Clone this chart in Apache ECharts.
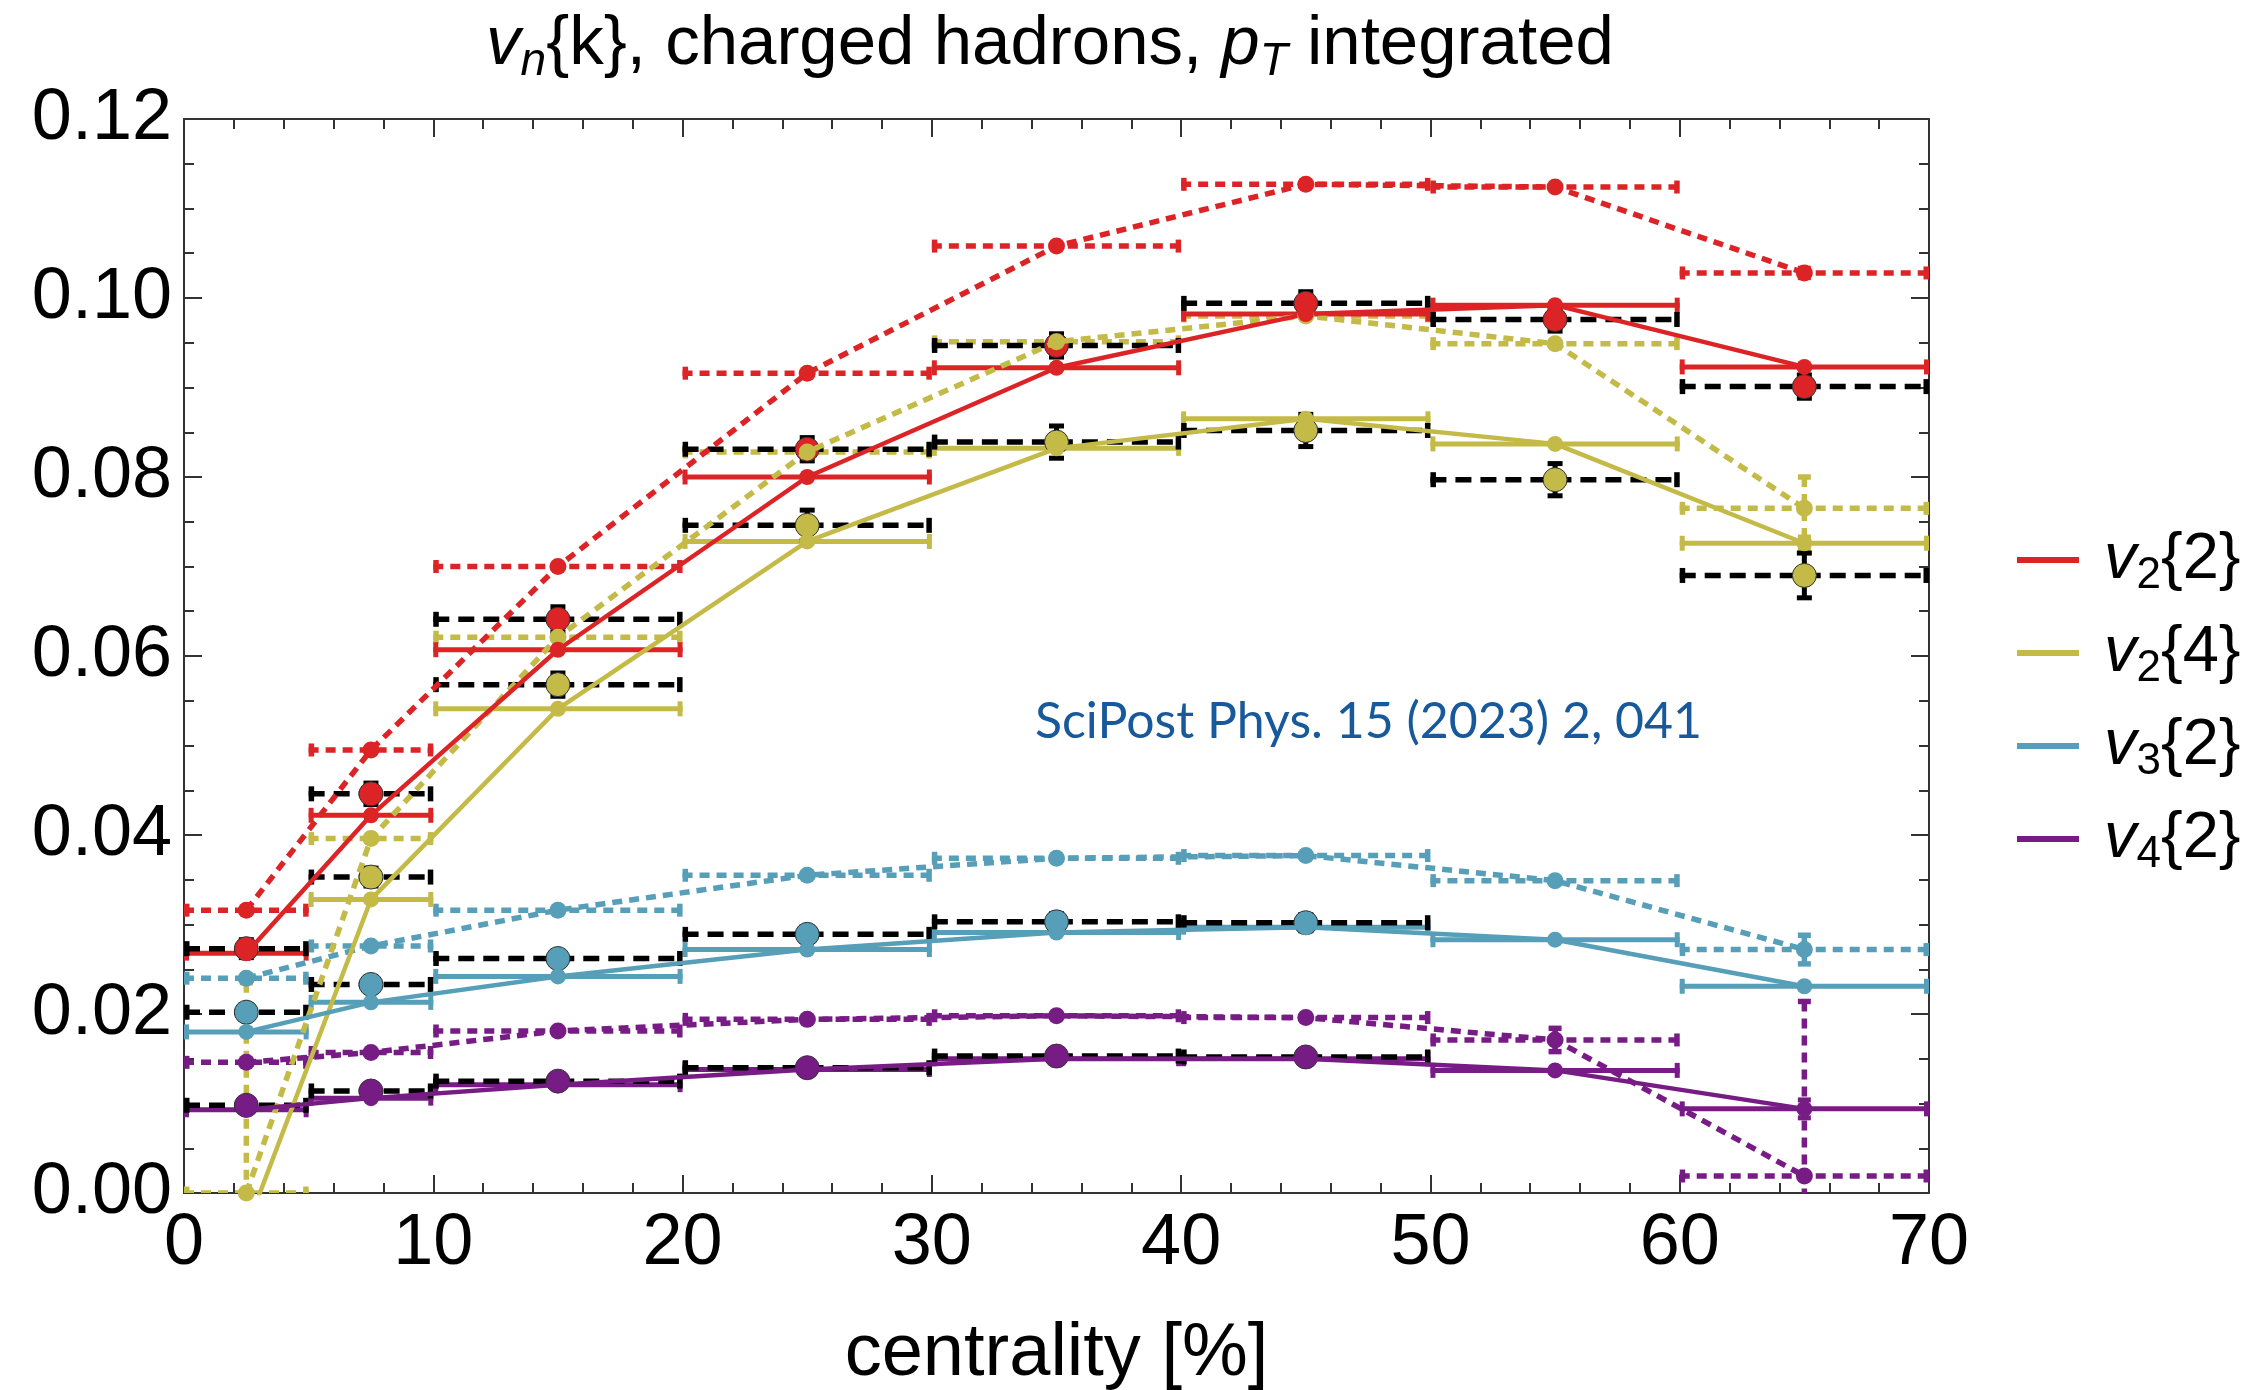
<!DOCTYPE html>
<html><head><meta charset="utf-8">
<script src="https://cdn.jsdelivr.net/npm/echarts@6/dist/echarts.min.js"></script>
<style>html,body{margin:0;padding:0;background:#fff}#c{width:2260px;height:1390px}</style>
</head><body><div id="c"></div>
<script>
// ---------------- data ----------------
const binLo     = [0, 5, 10, 20, 30, 40, 50, 60];
const binHi     = [5, 10, 20, 30, 40, 50, 60, 70];
const binCenter = [2.5, 7.5, 15, 25, 35, 45, 55, 65];
const seriesNames = ['v2{2}', 'v2{4}', 'v3{2}', 'v4{2}'];

// model 1 (solid lines)
const v22Solid = [0.0268, 0.0422, 0.0607, 0.0800, 0.0922, 0.0982, 0.0992, 0.0923];
const v24Solid = [-0.0040, 0.0328, 0.0541, 0.0728, 0.0832, 0.0865, 0.0837, 0.0726];
const v32Solid = [0.0180, 0.0213, 0.0242, 0.0272, 0.0291, 0.0297, 0.0283, 0.0231];
const v42Solid = [0.0093, 0.0106, 0.0121, 0.0138, 0.0150, 0.0150, 0.0137, 0.0094];
const v22SolidErr = [0, 0, 0, 0, 0, 0, 0, 0];
const v24SolidErr = [0, 0, 0, 0, 0, 0, 0, 0.0007];
const v32SolidErr = [0, 0, 0, 0, 0, 0, 0, 0];
const v42SolidErr = [0, 0, 0, 0, 0, 0, 0, 0.0010];

// model 2 (dotted lines)
const v22Dotted = [0.0316, 0.0495, 0.0700, 0.0916, 0.1058, 0.1127, 0.1124, 0.1028];
const v24Dotted = [0.0000, 0.0396, 0.0621, 0.0828, 0.0951, 0.0980, 0.0949, 0.0765];
const v32Dotted = [0.0240, 0.0276, 0.0316, 0.0355, 0.0374, 0.0377, 0.0349, 0.0272];
const v42Dotted = [0.0146, 0.0157, 0.0181, 0.0194, 0.0198, 0.0196, 0.0171, 0.0019];
const v22DottedErr = [0, 0, 0, 0, 0, 0, 0, 0.0005];
const v24DottedErr = [0.0235, 0, 0, 0, 0, 0, 0, 0.0035];
const v32DottedErr = [0, 0, 0, 0, 0, 0, 0, 0.0016];
const v42DottedErr = [0, 0, 0, 0, 0, 0, 0.0013, 0.0195];

// measurements (dashed black bins, big dots)
const v22Data = [0.0273, 0.0446, 0.0641, 0.0831, 0.0947, 0.0994, 0.0976, 0.0901];
const v24Data = [null, 0.0353, 0.0568, 0.0746, 0.0839, 0.0852, 0.0797, 0.0690];
const v32Data = [0.0202, 0.0233, 0.0262, 0.0289, 0.0303, 0.0302, null, null];
const v42Data = [0.0098, 0.0114, 0.0125, 0.0140, 0.0153, 0.0152, null, null];
const v22DataErr = [0.0010, 0.0012, 0.0014, 0.0013, 0.0013, 0.0013, 0.0013, 0.0013];
const v24DataErr = [null, 0.0010, 0.0013, 0.0017, 0.0018, 0.0018, 0.0018, 0.0025];
const v32DataErr = [0.0008, 0.0008, 0.0008, 0.0008, 0.0009, 0.0009, null, null];
const v42DataErr = [0.0005, 0.0005, 0.0005, 0.0005, 0.0006, 0.0006, null, null];

// ---------------- style ----------------
const RED = '#DC2427', YEL = '#C4BA47', BLU = '#579EB8', PUR = '#781C85';
const FONT = 'Liberation Sans, Arial, sans-serif';

const harmonics = [
  {name: seriesNames[0], color: RED, solid: v22Solid, solidErr: v22SolidErr, dotted: v22Dotted, dottedErr: v22DottedErr, data: v22Data, dataErr: v22DataErr},
  {name: seriesNames[1], color: YEL, solid: v24Solid, solidErr: v24SolidErr, dotted: v24Dotted, dottedErr: v24DottedErr, data: v24Data, dataErr: v24DataErr},
  {name: seriesNames[2], color: BLU, solid: v32Solid, solidErr: v32SolidErr, dotted: v32Dotted, dottedErr: v32DottedErr, data: v32Data, dataErr: v32DataErr},
  {name: seriesNames[3], color: PUR, solid: v42Solid, solidErr: v42SolidErr, dotted: v42Dotted, dottedErr: v42DottedErr, data: v42Data, dataErr: v42DataErr}
];

function rows(vals, errs) {
  const out = [];
  for (let i = 0; i < binCenter.length; i++) {
    if (vals[i] === null) continue;
    out.push([binLo[i], binHi[i], binCenter[i], vals[i], errs ? (errs[i] || 0) : 0]);
  }
  return out;
}
function pts(vals) {
  const out = [];
  for (let i = 0; i < binCenter.length; i++) if (vals[i] !== null) out.push([binCenter[i], vals[i]]);
  return out;
}

function makeRender(o) {
  return function (params, api) {
    const lo = api.value(0), hi = api.value(1), c = api.value(2), v = api.value(3), e = api.value(4);
    const kids = [];
    if (o.hbar) {
      const a = api.coord([lo, v]), b = api.coord([hi, v]);
      kids.push({type: 'line', shape: {x1: a[0], y1: a[1], x2: b[0], y2: b[1]},
        style: {stroke: o.color, lineWidth: o.width, lineDash: o.dash || null}});
      kids.push({type: 'line', shape: {x1: a[0] + o.width / 2, y1: a[1] - o.capH / 2, x2: a[0] + o.width / 2, y2: a[1] + o.capH / 2},
        style: {stroke: o.color, lineWidth: o.width}});
      kids.push({type: 'line', shape: {x1: b[0] - o.width / 2, y1: b[1] - o.capH / 2, x2: b[0] - o.width / 2, y2: b[1] + o.capH / 2},
        style: {stroke: o.color, lineWidth: o.width}});
    }
    if (o.ebar && e > 0) {
      const t = api.coord([c, v + e]), d = api.coord([c, v - e]);
      kids.push({type: 'line', shape: {x1: t[0], y1: t[1], x2: d[0], y2: d[1]},
        style: {stroke: o.ecolor || o.color, lineWidth: o.width, lineDash: o.edash || null}});
      kids.push({type: 'line', shape: {x1: t[0] - o.capW / 2, y1: t[1], x2: t[0] + o.capW / 2, y2: t[1]},
        style: {stroke: o.ecolor || o.color, lineWidth: o.width}});
      kids.push({type: 'line', shape: {x1: d[0] - o.capW / 2, y1: d[1], x2: d[0] + o.capW / 2, y2: d[1]},
        style: {stroke: o.ecolor || o.color, lineWidth: o.width}});
    }
    return {type: 'group', children: kids};
  };
}

const DOT = [10, 7], DASH = [16, 9];
const series = [];
// dotted model
harmonics.forEach(h => {
  series.push({type: 'custom', name: h.name + ' model2 bins', clip: true, silent: true,
    encode: {x: [0, 1, 2], y: 3},
    renderItem: makeRender({hbar: true, ebar: true, color: h.color, width: 5.5, dash: DOT, edash: DOT, capH: 13, capW: 13}),
    data: rows(h.dotted, h.dottedErr)});
  series.push({type: 'line', name: h.name + ' model2', clip: true, silent: true,
    data: pts(h.dotted), symbol: 'circle', symbolSize: 17, showSymbol: true,
    lineStyle: {color: h.color, width: 5.5, type: DOT}, itemStyle: {color: h.color, opacity: 1}});
});
// solid model
harmonics.forEach(h => {
  series.push({type: 'custom', name: h.name + ' model1 bins', clip: true, silent: true,
    encode: {x: [0, 1, 2], y: 3},
    renderItem: makeRender({hbar: true, ebar: true, color: h.color, width: 5, capH: 15, capW: 13}),
    data: rows(h.solid, h.solidErr)});
  series.push({type: 'line', name: h.name, clip: true, silent: true,
    data: pts(h.solid), symbol: 'circle', symbolSize: 16, showSymbol: true,
    lineStyle: {color: h.color, width: 4.5}, itemStyle: {color: h.color, opacity: 1}});
});
// measurement bins
harmonics.forEach(h => {
  series.push({type: 'custom', name: h.name + ' data bins', clip: true, silent: true,
    encode: {x: [0, 1, 2], y: 3},
    renderItem: makeRender({hbar: true, ebar: false, color: '#000', width: 5.5, dash: DASH, capH: 15}),
    data: rows(h.data, null)});
});
harmonics.forEach(h => {
  series.push({type: 'custom', name: h.name + ' data err', clip: true, silent: true,
    encode: {x: [0, 1, 2], y: 3},
    renderItem: makeRender({hbar: false, ebar: true, color: '#000', width: 5, capW: 15}),
    data: rows(h.data, h.dataErr)});
});
harmonics.forEach(h => {
  series.push({type: 'scatter', name: h.name + ' data', silent: true,
    data: pts(h.data), symbol: 'circle', symbolSize: 24,
    itemStyle: {color: h.color, borderColor: '#333', borderWidth: 1, opacity: 1}});
});

const axisCommon = {
  axisLine: {show: true, onZero: false, lineStyle: {color: '#333', width: 2}},
  splitLine: {show: false},
  axisTick: {show: true, inside: true, length: 18, lineStyle: {color: '#333', width: 2}},
  minorTick: {show: true, length: 10, lineStyle: {color: '#333', width: 2}}
};

const option = {
  animation: false,
  backgroundColor: '#fff',
  title: {
    text: '{i|v}{si|n}{k}, charged hadrons, {i|p}{si|T} integrated',
    left: 1050, top: 5, textAlign: 'center', padding: 0,
    textStyle: {fontFamily: FONT, fontSize: 69, fontWeight: 'normal', color: '#000', lineHeight: 80,
      rich: {
        i: {fontFamily: FONT, fontSize: 69, fontStyle: 'italic', color: '#000', lineHeight: 80},
        si: {fontFamily: FONT, fontSize: 46, fontStyle: 'italic', color: '#000', lineHeight: 52, verticalAlign: 'bottom'}
      }}
  },
  legend: {
    data: seriesNames, orient: 'vertical', left: 2017, top: 522, padding: 0,
    icon: 'rect', itemWidth: 62, itemHeight: 6, itemGap: 17,
    selectedMode: false,
    formatter: function (name) { return '{v|v}{s|' + name.charAt(1) + '}' + name.slice(2); },
    textStyle: {fontFamily: FONT, fontSize: 65, color: '#000', lineHeight: 76,
      rich: {
        v: {fontFamily: FONT, fontSize: 65, fontStyle: 'italic', color: '#000', lineHeight: 76, padding: [0, 0, 0, 20]},
        s: {fontFamily: FONT, fontSize: 44, color: '#000', lineHeight: 48, verticalAlign: 'bottom'}
      }}
  },
  grid: {left: 184, right: 331, top: 119, bottom: 197, containLabel: false, outerBoundsMode: 'none'},
  xAxis: [
    Object.assign({}, axisCommon, {
      type: 'value', min: 0, max: 70, interval: 10, position: 'bottom',
      minorTick: Object.assign({}, axisCommon.minorTick, {splitNumber: 5}),
      axisLabel: {show: true, fontFamily: FONT, fontSize: 72, color: '#000', margin: 15},
      name: 'centrality [%]', nameLocation: 'middle', nameGap: 125,
      nameTextStyle: {fontFamily: FONT, fontSize: 74, color: '#000'}
    }),
    Object.assign({}, axisCommon, {
      type: 'value', min: 0, max: 70, interval: 10, position: 'top',
      minorTick: Object.assign({}, axisCommon.minorTick, {splitNumber: 5}),
      axisLabel: {show: false}
    })
  ],
  yAxis: [
    Object.assign({}, axisCommon, {
      type: 'value', min: 0, max: 0.12, interval: 0.02, position: 'left',
      minorTick: Object.assign({}, axisCommon.minorTick, {splitNumber: 4}),
      axisLabel: {show: true, fontFamily: FONT, fontSize: 72, color: '#000', margin: 12,
        formatter: v => v.toFixed(2)}
    }),
    Object.assign({}, axisCommon, {
      type: 'value', min: 0, max: 0.12, interval: 0.02, position: 'right',
      minorTick: Object.assign({}, axisCommon.minorTick, {splitNumber: 4}),
      axisLabel: {show: false}
    })
  ],
  graphic: [{
    type: 'text', left: 1035, top: 697, silent: true,
    style: {text: 'SciPost Phys. 15 (2023) 2, 041', font: '50px Lato, sans-serif', fill: '#17599A'}
  }],
  series: series
};

const chart = echarts.init(document.getElementById('c'), null, {renderer: 'canvas', width: 2260, height: 1390});
chart.setOption(option);
</script>
</body></html>
